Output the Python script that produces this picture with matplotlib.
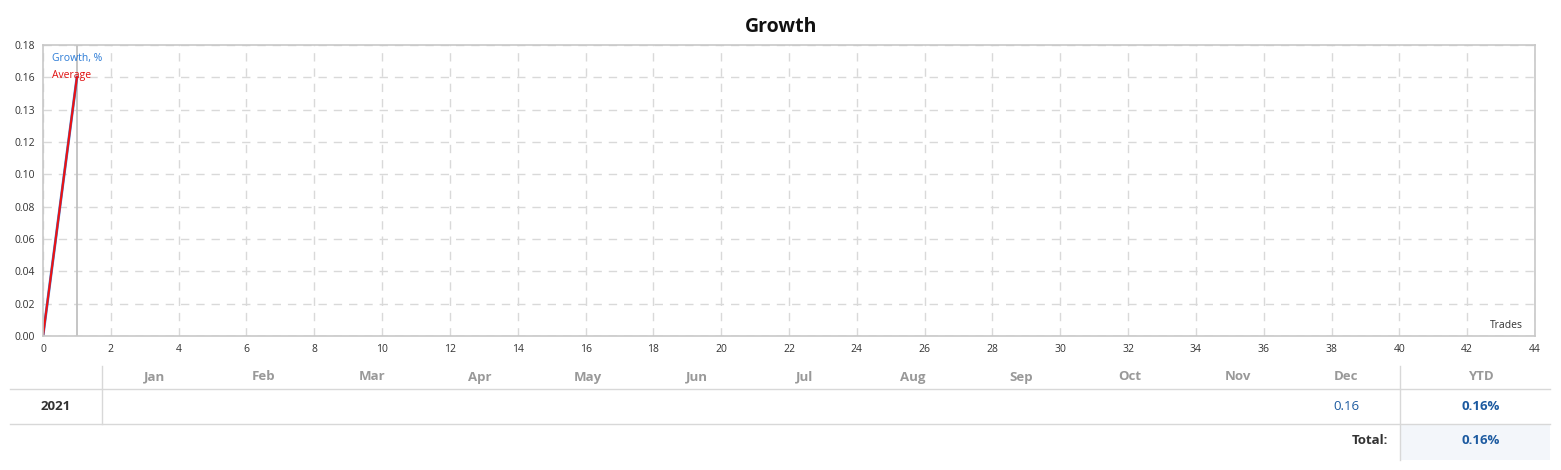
import matplotlib
matplotlib.use('Agg')
import matplotlib.pyplot as plt
from matplotlib.lines import Line2D
from matplotlib.patches import Rectangle

plt.rcParams['font.family'] = ['Open Sans', 'DejaVu Sans']

# chart data
trades = [0, 1]
growth = [0.0, 0.16]
average = [0.0, 0.16]
y_ticks = [0.0, 0.02, 0.04, 0.06, 0.08, 0.10, 0.12, 0.14, 0.16, 0.18]
y_labels = ['0.00', '0.02', '0.04', '0.06', '0.08', '0.10', '0.12', '0.13', '0.16', '0.18']
x_ticks = list(range(0, 45, 2))

# table data
months = ['Jan', 'Feb', 'Mar', 'Apr', 'May', 'Jun', 'Jul', 'Aug', 'Sep', 'Oct', 'Nov', 'Dec']
year = '2021'
month_values = ['', '', '', '', '', '', '', '', '', '', '', '0.16']
ytd = '0.16%'
total = '0.16%'

W, H = 1561, 470
fig = plt.figure(figsize=(W / 100, H / 100), dpi=100)

def fx(px):
    return px / W

def fy(py):
    return 1 - py / H

ax = fig.add_axes([fx(43), fy(336), fx(1535) - fx(43), fy(45) - fy(336)])
ax.set_xlim(0, 44)
ax.set_ylim(0, 0.18)
ax.set_xticks(x_ticks)
ax.set_yticks(y_ticks)
ax.set_yticklabels(y_labels)
ax.tick_params(length=0, labelsize=7.5, colors='#333333', pad=6)
ax.grid(True, color='#d9d9d9', linestyle=(0, (6, 5)), linewidth=1)
for s in ax.spines.values():
    s.set_color('#c8c8c8')
    s.set_linewidth(1.2)
ax.axvline(1, color='#c0c0c0', linewidth=1.3)
ax.plot(trades, growth, color='#3a7fd5', linewidth=2)
ax.plot(trades, average, color='#ee1111', linewidth=1.5)
ax.text(0.006, 0.955, 'Growth, %', transform=ax.transAxes, color='#2b7bd6', fontsize=7.5, va='center')
ax.text(0.006, 0.895, 'Average', transform=ax.transAxes, color='#e01010', fontsize=7.5, va='center')
ax.text(0.992, 0.035, 'Trades', transform=ax.transAxes, color='#333333', fontsize=7.5, ha='right', va='center')

fig.text(fx(781), fy(27), 'Growth', ha='center', va='center', fontsize=14, fontweight='bold', color='#111111')

# table
line_c = '#d8d8d8'
fig.add_artist(Rectangle((fx(1400), fy(460)), fx(1550) - fx(1400), fy(425) - fy(460),
                         transform=fig.transFigure, color='#f3f6fa', linewidth=0))
for py in [389, 424]:
    fig.add_artist(Line2D([fx(10), fx(1550)], [fy(py), fy(py)], color=line_c, linewidth=1))
fig.add_artist(Line2D([fx(102), fx(102)], [fy(366), fy(424)], color=line_c, linewidth=1))
fig.add_artist(Line2D([fx(1400), fx(1400)], [fy(366), fy(460)], color=line_c, linewidth=1))

fs = 9.5
col_x = [155 + i * 108.3 for i in range(12)]
for cx, m, v in zip(col_x, months, month_values):
    fig.text(fx(cx), fy(377), m, ha='center', va='center', fontsize=fs, fontweight='bold', color='#999999')
    if v:
        fig.text(fx(cx), fy(407), v, ha='center', va='center', fontsize=fs, color='#1c5aa0')
fig.text(fx(1481), fy(377), 'YTD', ha='center', va='center', fontsize=fs, fontweight='bold', color='#999999')
fig.text(fx(56), fy(407), year, ha='center', va='center', fontsize=fs, fontweight='bold', color='#333333')
fig.text(fx(1481), fy(407), ytd, ha='center', va='center', fontsize=fs, fontweight='bold', color='#1c5aa0')
fig.text(fx(1388), fy(441), 'Total:', ha='right', va='center', fontsize=fs, fontweight='bold', color='#333333')
fig.text(fx(1481), fy(441), total, ha='center', va='center', fontsize=fs, fontweight='bold', color='#1c5aa0')

plt.savefig('out.png', dpi=100)
plt.close()
